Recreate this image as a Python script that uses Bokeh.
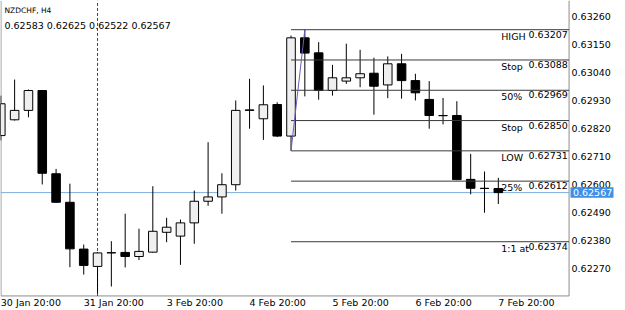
from bokeh.plotting import figure
from bokeh.models import Range1d, Label, ColumnDataSource
from bokeh.core.properties import value
from bokeh.embed import file_html
from bokeh.resources import INLINE

symbol = "NZDCHF, H4"
opens = [0.62791, 0.62853, 0.62890, 0.62968, 0.62641, 0.62529, 0.62345, 0.62277, 0.62330, 0.62332,
         0.62316, 0.62333, 0.62411, 0.62396, 0.62448, 0.62533, 0.62550, 0.62598, 0.62890, 0.62857,
         0.62913, 0.62789, 0.63175, 0.63116, 0.62968, 0.63005, 0.63018, 0.63036, 0.62990, 0.63073,
         0.63007, 0.62933, 0.62870, 0.62870, 0.62619, 0.62584, 0.62583]
highs = [0.62948, 0.63011, 0.62972, 0.62970, 0.62660, 0.62602, 0.62363, 0.62333, 0.62376, 0.62484,
         0.62425, 0.62592, 0.62468, 0.62461, 0.62575, 0.62765, 0.62643, 0.62929, 0.63014, 0.62988,
         0.62922, 0.63184, 0.63207, 0.63158, 0.63069, 0.63152, 0.63128, 0.63097, 0.63102, 0.63112,
         0.63034, 0.63005, 0.62939, 0.62926, 0.62719, 0.62650, 0.62625]
lows = [0.62772, 0.62850, 0.62863, 0.62599, 0.62527, 0.62274, 0.62245, 0.62171, 0.62198, 0.62273,
        0.62302, 0.62331, 0.62372, 0.62283, 0.62366, 0.62515, 0.62484, 0.62575, 0.62818, 0.62774,
        0.62785, 0.62731, 0.62945, 0.62932, 0.62948, 0.62994, 0.62981, 0.62873, 0.62938, 0.62936,
        0.62929, 0.62818, 0.62835, 0.62616, 0.62560, 0.62488, 0.62522]
closes = [0.62916, 0.62890, 0.62968, 0.62643, 0.62529, 0.62346, 0.62281, 0.62330, 0.62331, 0.62316,
          0.62336, 0.62415, 0.62431, 0.62448, 0.62533, 0.62550, 0.62598, 0.62890, 0.62892, 0.62912,
          0.62789, 0.63175, 0.63115, 0.62968, 0.63018, 0.63018, 0.63034, 0.62985, 0.63073, 0.63007,
          0.62959, 0.62870, 0.62869, 0.62618, 0.62584, 0.62583, 0.62567]

x_tick_bars = [0, 6, 12, 18, 24, 30, 36]
x_tick_labels = ["30 Jan 20:00", "31 Jan 20:00", "3 Feb 20:00", "4 Feb 20:00",
                 "5 Feb 20:00", "6 Feb 20:00", "7 Feb 20:00"]
y_ticks = [0.63260, 0.63150, 0.63040, 0.62930, 0.62820, 0.62710, 0.62600, 0.62490, 0.62380, 0.62270]

fib_names = ["HIGH", "Stop", "50%", "Stop", "LOW", "25%", "1:1 at"]
fib_levels = [0.63207, 0.63088, 0.62969, 0.62850, 0.62731, 0.62612, 0.62374]
fib_low_bar = 21
fib_high_bar = 22
week_separator_bar = 7
last_price = 0.62567

FONT = "DejaVu Sans"
FS = "9.5px"

# chart layout (MT4 window): chart area edges in bar / price units
X_START, X_END = -0.0217, 45.203           # whole window
Y_BOTTOM, Y_TOP = 0.621038, 0.6332168       # whole window
CHART_LEFT = 0.012                           # left border of chart area
CHART_RIGHT = 41.12                          # right border (price scale starts)
CHART_BOTTOM = 0.62161                       # bottom border (time scale starts)
SCALE_TEXT_X = 41.30
LEVEL_NAME_X = 36.21
LEVEL_PRICE_X = 41.03
TAG_X = 42.78

n = len(opens)
idx = list(range(n))
is_up = [c >= o for o, c in zip(opens, closes)]
src = ColumnDataSource(dict(
    x=idx, o=opens, h=highs, l=lows, c=closes,
    top=[max(o, c) for o, c in zip(opens, closes)],
    bottom=[min(o, c) for o, c in zip(opens, closes)],
    fill=["#efefef" if u else "#000000" for u in is_up],
))

p = figure(width=625, height=310, x_range=Range1d(X_START, X_END), y_range=Range1d(Y_BOTTOM, Y_TOP),
           output_backend="svg", toolbar_location=None,
           x_axis_location=None, y_axis_location=None,
           min_border_left=0, min_border_right=0, min_border_top=0, min_border_bottom=0)
p.background_fill_color = "white"
p.border_fill_color = "white"
p.outline_line_color = None
p.xgrid.visible = False
p.ygrid.visible = False

# chart borders
p.segment(x0=[CHART_RIGHT, CHART_LEFT, CHART_LEFT], y0=[Y_TOP, Y_TOP, CHART_BOTTOM],
          x1=[CHART_RIGHT, CHART_LEFT, CHART_RIGHT], y1=[CHART_BOTTOM, CHART_BOTTOM, CHART_BOTTOM],
          line_color="#8c8c8c", line_width=1)

# current price line
p.segment(x0=[X_START], y0=[last_price], x1=[CHART_RIGHT], y1=[last_price],
          line_color="#7eaedb", line_width=1)
# week separator
p.segment(x0=[week_separator_bar], y0=[CHART_BOTTOM], x1=[week_separator_bar], y1=[Y_TOP],
          line_color="#444444", line_width=1, line_dash="3 2")

# candles
p.segment(x0="x", y0="l", x1="x", y1="h", source=src, line_color="#000000", line_width=1)
p.vbar(x="x", width=0.62, top="top", bottom="bottom", source=src,
       fill_color="fill", line_color="#000000", line_width=1)

# fibonacci levels
m = len(fib_levels)
fsrc = ColumnDataSource(dict(
    x0=[fib_low_bar] * m, x1=[CHART_RIGHT] * m,
    y=fib_levels, name=fib_names, price=["%.5f" % v for v in fib_levels],
    lx=[LEVEL_NAME_X] * m, px=[LEVEL_PRICE_X] * m,
))
p.segment(x0="x0", y0="y", x1="x1", y1="y", source=fsrc, line_color="#3a3a3a", line_width=1)
p.text(x="lx", y="y", text="name", source=fsrc, text_font=value(FONT), text_font_size=FS,
       text_align="left", text_baseline="top", y_offset=1, text_color="#000000")
p.text(x="px", y="y", text="price", source=fsrc, text_font=value(FONT), text_font_size=FS,
       text_align="right", text_baseline="top", y_offset=1, text_color="#000000")
p.line(x=[fib_low_bar, fib_high_bar], y=[fib_levels[4], fib_levels[0]], line_color="#6b5fb5", line_width=1)

# price scale
p.text(x=[SCALE_TEXT_X] * len(y_ticks), y=y_ticks, text=["%.5f" % v for v in y_ticks],
       text_font=value(FONT), text_font_size=FS, text_align="left", text_baseline="middle",
       text_color="#000000")
# last price tag
p.rect(x=[TAG_X], y=[last_price], width=43, height=10.5, width_units="screen", height_units="screen",
       fill_color="#3f8fe6", line_color=None)
p.text(x=[SCALE_TEXT_X + 0.1], y=[last_price], text=["%.5f" % last_price],
       text_font=value(FONT), text_font_size=FS, text_align="left", text_baseline="middle",
       text_color="#ffffff")

# time scale
p.text(x=x_tick_bars, y=[CHART_BOTTOM] * len(x_tick_bars), text=x_tick_labels, y_offset=7,
       text_font=value(FONT), text_font_size=FS, text_align="left", text_baseline="middle",
       text_color="#000000")

# header
p.add_layout(Label(x=4, y=300, x_units="screen", y_units="screen", text=symbol,
                   text_font=FONT, text_font_size="7.5px", text_align="left",
                   text_baseline="middle", text_color="#000000"))
p.add_layout(Label(x=4, y=285, x_units="screen", y_units="screen",
                   text="%.5f %.5f %.5f %.5f" % (opens[-1], highs[-1], lows[-1], closes[-1]),
                   text_font=FONT, text_font_size=FS, text_align="left",
                   text_baseline="middle", text_color="#000000"))

open("out.html", "w").write(file_html(p, INLINE))
